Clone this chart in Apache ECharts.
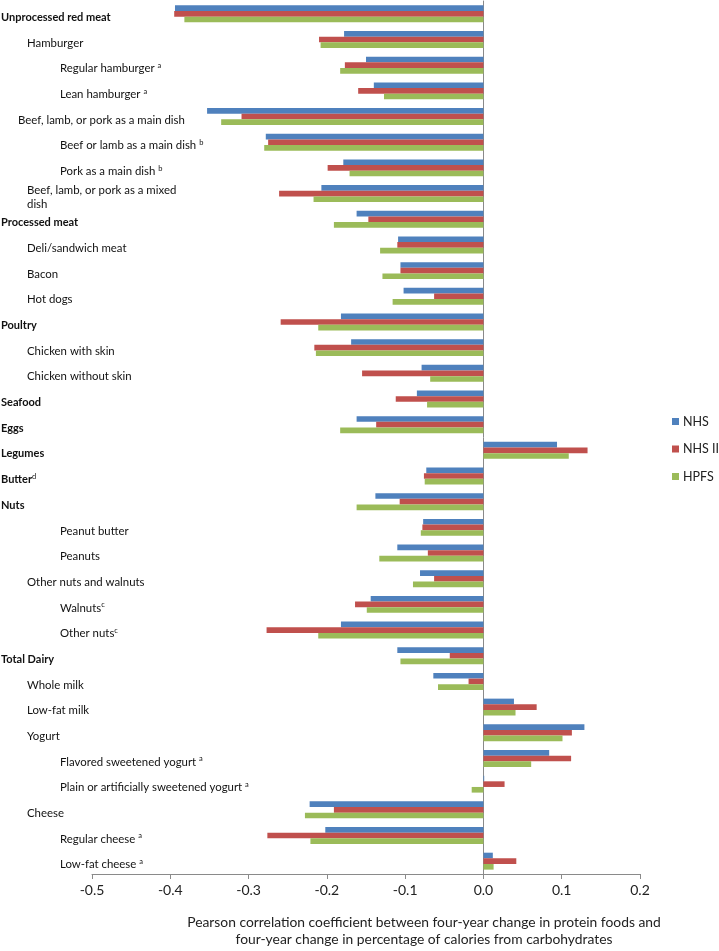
<!DOCTYPE html>
<html><head><meta charset="utf-8">
<script src="https://cdn.jsdelivr.net/npm/echarts@6/dist/echarts.min.js"></script>
<style>html,body{margin:0;padding:0;background:#fff}#c{width:719px;height:951px}</style>
</head><body><div id="c"></div>
<script>
const categories = [
 "Unprocessed red meat","Hamburger","Regular hamburger ","Lean hamburger ",
 "Beef, lamb, or pork as a main dish","Beef or lamb as a main dish ","Pork as a main dish ",
 "Beef, lamb, or pork as a mixed\ndish","Processed meat","Deli/sandwich meat","Bacon","Hot dogs",
 "Poultry","Chicken with skin","Chicken without skin","Seafood","Eggs","Legumes","Butter","Nuts",
 "Peanut butter","Peanuts","Other nuts and walnuts","Walnuts","Other nuts","Total Dairy",
 "Whole milk","Low-fat milk","Yogurt","Flavored sweetened yogurt ",
 "Plain or artificially sweetened yogurt ","Cheese","Regular cheese ","Low-fat cheese "
];
const footnotes = ["","","a","a","","b","b","","","","","","","","","","","","d","",
 "","","","c","c","","","","","a","a","","a","a"];
// hierarchy level of each row: h = heading, m = main-dish group, s = sub item, ss = sub-sub item
const levels = ["h","s","ss","ss","m","ss","ss","s","h","s","s","s","h","s","s","h","h","h","h","h",
 "ss","ss","s","ss","ss","h","s","s","s","ss","ss","s","ss","ss"];
const seriesNames = ["NHS","NHS II","HPFS"];
const nhs  = [-0.394,-0.178,-0.150,-0.140,-0.353,-0.278,-0.179,-0.207,-0.162,-0.109,-0.106,-0.102,-0.182,-0.169,-0.079,-0.085,-0.162,0.094,-0.073,-0.138,-0.077,-0.110,-0.081,-0.144,-0.182,-0.110,-0.064,0.039,0.129,0.084,0.001,-0.222,-0.202,0.012];
const nhs2 = [-0.395,-0.210,-0.177,-0.160,-0.309,-0.275,-0.199,-0.261,-0.147,-0.110,-0.106,-0.063,-0.259,-0.216,-0.155,-0.112,-0.137,0.133,-0.076,-0.107,-0.078,-0.071,-0.063,-0.164,-0.277,-0.043,-0.019,0.068,0.113,0.112,0.027,-0.191,-0.276,0.042];
const hpfs = [-0.382,-0.208,-0.183,-0.127,-0.335,-0.280,-0.171,-0.217,-0.191,-0.132,-0.129,-0.116,-0.211,-0.214,-0.068,-0.072,-0.183,0.109,-0.075,-0.162,-0.080,-0.133,-0.090,-0.149,-0.211,-0.106,-0.058,0.041,0.101,0.061,-0.015,-0.228,-0.221,0.013];
const xMin = -0.5, xMax = 0.2, xStep = 0.1;
const xTitle = "Pearson correlation coefficient between four-year change in protein foods and\nfour-year change in percentage of calories from carbohydrates";

const FONT = "Lato";
const G = {left: 92, right: 79, top: 1, bottom: 77};
const labelMap = {};
categories.forEach((c, i) => { labelMap[c] = i; });

const chart = echarts.init(document.getElementById('c'), null, {renderer: 'canvas'});
const colors = ['#4F81BD', '#C0504D', '#9BBB59'];
chart.setOption({
  animation: false,
  color: colors,
  textStyle: {fontFamily: FONT},
  grid: {left: G.left, right: G.right, top: G.top, bottom: G.bottom, containLabel: false, outerBoundsMode: 'none'},
  legend: {
    orient: 'vertical', left: 672, top: 414.5, itemWidth: 7, itemHeight: 7, itemGap: 13.5,
    icon: 'rect', data: seriesNames, padding: 0,
    textStyle: {fontFamily: FONT, fontSize: 12.5, lineHeight: 14, color: '#222', padding: [0,0,0,-1]}
  },
  xAxis: {
    type: 'value', min: xMin, max: xMax, interval: xStep,
    splitLine: {show: false},
    axisLine: {show: true, onZero: false, lineStyle: {color: '#8a8a8a', width: 1}},
    axisTick: {show: true, length: 5, lineStyle: {color: '#8a8a8a'}},
    axisLabel: {fontFamily: FONT, fontSize: 14, color: '#222', margin: 9,
      formatter: v => v.toFixed(1)},
    name: xTitle, nameLocation: 'middle', nameGap: 40,
    nameTextStyle: {fontFamily: FONT, fontSize: 13.85, color: '#222', lineHeight: 17,
      padding: [0, 0, 0, 116]}
  },
  yAxis: {
    type: 'category', inverse: true, data: categories,
    axisLine: {show: true, onZero: true, lineStyle: {color: '#8a8a8a', width: 1}},
    axisTick: {show: false},
    splitLine: {show: false},
    axisLabel: {
      interval: 0, align: 'left', margin: G.left, padding: [7, 0, 0, 0],
      fontFamily: FONT, fontSize: 11.4, color: '#111',
      formatter: (v) => {
        const i = labelMap[v];
        const lv = levels[i];
        const fn = footnotes[i];
        const lines = v.split('\n');
        let out = lines.map(l => '{' + lv + '|' + l + '}').join('\n');
        if (fn) out += '{sup|' + fn + '}';
        return out;
      },
      rich: {
        h: {fontWeight: 'bold', fontSize: 11, fontFamily: FONT, color: '#111', padding: [0,0,0,1], lineHeight: 14},
        m: {fontSize: 11.4, fontFamily: FONT, color: '#111', padding: [0,0,0,18], lineHeight: 14},
        s: {fontSize: 11.4, fontFamily: FONT, color: '#111', padding: [0,0,0,27], lineHeight: 14},
        ss: {fontSize: 11.4, fontFamily: FONT, color: '#111', padding: [0,0,0,60], lineHeight: 14},
        sup: {fontSize: 7.5, fontFamily: FONT, color: '#111', verticalAlign: 'top', lineHeight: 14, padding: [0,0,6,0]}
      }
    }
  },
  series: [nhs, nhs2, hpfs].map((d, k) => ({
    name: seriesNames[k], type: 'bar', data: d,
    barGap: '0%', barCategoryGap: '34%',
    itemStyle: {color: colors[k]}
  }))
});
</script></body></html>
